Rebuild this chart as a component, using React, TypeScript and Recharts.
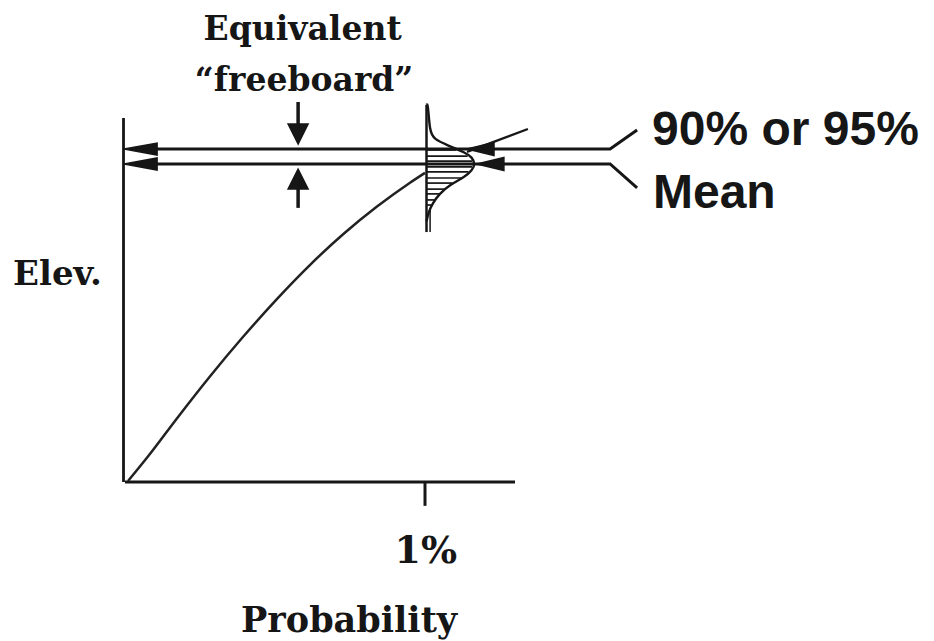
import { ComposedChart, XAxis, YAxis, Line, Scatter, ReferenceLine, ReferenceDot } from "recharts";

const INK = "#161616";
const SERIF = "'DejaVu Serif', serif";
const SANS = "'Liberation Sans', Arial, sans-serif";

// plot space: x = probability axis (1% tick at 100), y = elevation (mean at 100)
const X_DOMAIN: [number, number] = [-41.67, 269.67];
const Y_DOMAIN: [number, number] = [-50, 151.57];

// elevation-probability curve
const curveProb = [1, 8.3, 17.3, 28.3, 39.3, 50.7, 61.7, 72.7, 84, 95, 100];
const curveElev = [0.3, 8.8, 20.0, 33.2, 45.6, 57.6, 68.3, 77.9, 86.6, 94.1, 97.2];

// uncertainty distribution drawn at the 1% event
const distProb = [100.5, 101, 101.7, 103.5, 107.8, 112.9, 115.5, 116.4, 115.5, 112.9, 108.5, 105, 102.7, 101.3, 100.5];
const distElev = [118.6, 117.6, 111.3, 107.9, 105.8, 103.7, 102.0, 100, 98.0, 95.9, 93.4, 90.6, 87.7, 84.9, 82];
const hatchElev = [104.4, 102.5, 100.9, 99.1, 97.5, 95.6, 94.0, 92.1, 90.6, 88.7, 87.1];
const hatchEnd = [110.4, 114.2, 115.7, 115.7, 114.5, 112.2, 109.2, 106.7, 104.7, 103.2, 102.1];
const distBase = 100.5;
const distTop = 118.6;
const distBottom = 78.6;

// levels
const levelNames = ["90% or 95%", "Mean"];
const levelElev = [104.7, 100];
const levelEnd = 161.7;
const leaderEnd = 170.7;
const leaderElev = [110.7, 92.5];
const levelTips = [114, 117.3];

// freeboard arrows
const freeboardProb = 57.7;
const freeboardShaft = [[119.5, 112.5], [92.5, 86.2]];
const freeboardTips = [106.3, 98.4];

// axes
const axisTop = 114.5;
const axisEnd = 130;
const tickProb = 100;
const tickLow = -7.5;

const curveData = curveProb.map((x, i) => ({ x, y: curveElev[i] }));
const distData = distProb.map((x, i) => ({ x, y: distElev[i] }));
const leaderData = levelElev.map((y, i) => [
  { x: 2, y },
  { x: levelEnd, y },
  { x: leaderEnd, y: leaderElev[i] },
]);
const axisHeads = levelElev.map((y) => ({ x: -0.3, y, dir: "left" }));
const levelHeads = levelElev.map((y, i) => ({ x: levelTips[i], y, dir: "left" }));
const freeboardHeads = [
  { x: freeboardProb, y: freeboardTips[0], dir: "down" },
  { x: freeboardProb, y: freeboardTips[1], dir: "up" },
];

type Note = { x: number; y: number; text: string; anchor: "start" | "middle" | "end"; font: string; size: number };
const notes: Note[] = [
  { x: 59.2, y: 139, text: "Equivalent", anchor: "middle", font: SERIF, size: 33 },
  { x: 59.7, y: 123, text: "\u201cfreeboard\u201d", anchor: "middle", font: SERIF, size: 33 },
  { x: -37.3, y: 62, text: "Elev.", anchor: "start", font: SERIF, size: 34 },
  { x: 100.3, y: -25.5, text: "1%", anchor: "middle", font: SERIF, size: 38 },
  { x: 74.7, y: -47.2, text: "Probability", anchor: "middle", font: SERIF, size: 35 },
  { x: 175.7, y: 106, text: levelNames[0], anchor: "start", font: SANS, size: 48 },
  { x: 176, y: 86.2, text: levelNames[1], anchor: "start", font: SANS, size: 48 },
];

function makeHead(len: number, half: number) {
  return (p: any) => {
    const { cx, cy } = p;
    const dir = p.payload?.dir;
    let pts = "";
    if (dir === "left") pts = `${cx},${cy} ${cx + len},${cy - half} ${cx + len},${cy + half}`;
    else if (dir === "down") pts = `${cx},${cy} ${cx - half},${cy - len} ${cx + half},${cy - len}`;
    else pts = `${cx},${cy} ${cx - half},${cy + len} ${cx + half},${cy + len}`;
    return <polygon points={pts} fill={INK} stroke={INK} strokeWidth={1.5} strokeLinejoin="miter" />;
  };
}

function noteShape(n: Note) {
  return (p: any) => (
    <text
      x={p.cx}
      y={p.cy}
      textAnchor={n.anchor}
      fontFamily={n.font}
      fontWeight="bold"
      fontSize={n.size}
      fill={INK}
    >
      {n.text}
    </text>
  );
}

export default function App() {
  return (
    <div style={{ position: "absolute", left: 0, top: 0, background: "#fff" }}>
      <ComposedChart width={934} height={641} margin={{ top: 0, right: 0, bottom: 0, left: 0 }}>
        <XAxis type="number" dataKey="x" domain={X_DOMAIN} allowDataOverflow hide />
        <YAxis type="number" dataKey="y" domain={Y_DOMAIN} allowDataOverflow hide />

        {/* axes */}
        <ReferenceLine segment={[{ x: -0.5, y: 0 }, { x: -0.5, y: axisTop }]} stroke={INK} strokeWidth={2.8} />
        <ReferenceLine segment={[{ x: 0, y: 0 }, { x: axisEnd, y: 0 }]} stroke={INK} strokeWidth={2.8} />
        <ReferenceLine segment={[{ x: tickProb, y: 0 }, { x: tickProb, y: tickLow }]} stroke={INK} strokeWidth={3} />

        {/* distribution */}
        <ReferenceLine segment={[{ x: distBase, y: distBottom }, { x: distBase, y: distTop }]} stroke={INK} strokeWidth={2.5} />
        <ReferenceLine segment={[{ x: distBase + 1.2, y: distBottom }, { x: distBase + 1.2, y: 86 }]} stroke={INK} strokeWidth={1.5} />
        {hatchElev.map((y, i) => (
          <ReferenceLine key={`h${i}`} segment={[{ x: distBase, y }, { x: hatchEnd[i], y }]} stroke={INK} strokeWidth={1.7} />
        ))}
        <Line data={distData} dataKey="y" type="natural" stroke={INK} strokeWidth={2.4} dot={false} isAnimationActive={false} />

        {/* curve */}
        <Line data={curveData} dataKey="y" type="monotone" stroke="#222" strokeWidth={2.5} dot={false} isAnimationActive={false} />

        {/* level lines with leaders */}
        {leaderData.map((d, i) => (
          <Line key={`l${i}`} data={d} dataKey="y" type="linear" stroke={INK} strokeWidth={3} dot={false} isAnimationActive={false} />
        ))}
        <ReferenceLine segment={[{ x: 114, y: 103.8 }, { x: 134.3, y: 111 }]} stroke={INK} strokeWidth={2.3} />

        {/* freeboard arrows */}
        {freeboardShaft.map((s, i) => (
          <ReferenceLine key={`f${i}`} segment={[{ x: freeboardProb, y: s[0] }, { x: freeboardProb, y: s[1] }]} stroke={INK} strokeWidth={3.5} />
        ))}

        <Scatter data={axisHeads} shape={makeHead(33, 6)} isAnimationActive={false} />
        <Scatter data={levelHeads} shape={makeHead(27, 6.5)} isAnimationActive={false} />
        <Scatter data={freeboardHeads} shape={makeHead(20, 10)} isAnimationActive={false} />

        {notes.map((n, i) => (
          <ReferenceDot key={`n${i}`} x={n.x} y={n.y} r={0} shape={noteShape(n)} />
        ))}
      </ComposedChart>
    </div>
  );
}
